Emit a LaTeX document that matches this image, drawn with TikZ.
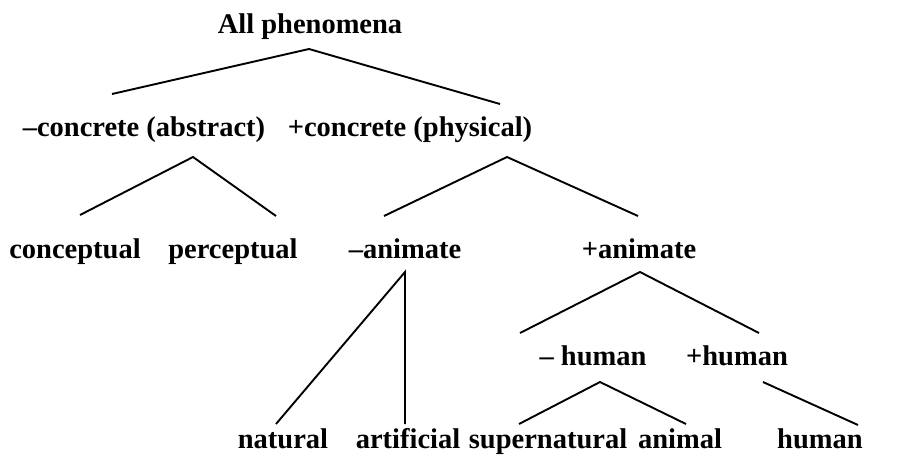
\documentclass[tikz,border=0pt]{standalone}
\usepackage{fontspec}
\setmainfont{Liberation Serif}
\begin{document}
\begin{tikzpicture}[x=1pt,y=-1pt,
  lbl/.style={anchor=base,inner sep=0pt,font=\fontsize{28.5}{32}\selectfont\bfseries},
  edge/.style={line width=1.9pt}]
\useasboundingbox (0,0) rectangle (909,456);
\node[lbl] (root) at (310,33) {All phenomena};
\node[lbl] (cabs) at (144,136) {–concrete (abstract)};
\node[lbl] (cphy) at (410,136) {+concrete (physical)};
\node[lbl] (conc) at (75,258) {conceptual};
\node[lbl] (perc) at (233,258) {perceptual};
\node[lbl] (nani) at (405,258) {–animate};
\node[lbl] (pani) at (639,258) {+animate};
\node[lbl] (nhum) at (593,365) {– human};
\node[lbl] (phum) at (737,365) {+human};
\node[lbl] (natu) at (283,448) {natural};
\node[lbl] (arti) at (408,448) {artificial};
\node[lbl] (supe) at (548,448) {supernatural};
\node[lbl] (anim) at (680,448) {animal};
\node[lbl] (huma) at (820,448) {human};
\draw[edge] ([shift={(-32,-42)}]cabs.base) -- ([shift={(-1,16)}]root.base) -- ([shift={(90,-32)}]cphy.base);
\draw[edge] ([shift={(5,-43)}]conc.base) -- ([shift={(49,21)}]cabs.base) -- ([shift={(43,-42)}]perc.base);
\draw[edge] ([shift={(-21,-42)}]nani.base) -- ([shift={(97,21)}]cphy.base) -- ([shift={(-1,-42)}]pani.base);
\draw[edge] ([shift={(-7,-24)}]natu.base) -- ([shift={(0,14)}]nani.base) -- ([shift={(-3,-24)}]arti.base);
\draw[edge] ([shift={(-73,-32)}]nhum.base) -- ([shift={(1,14)}]pani.base) -- ([shift={(22,-32)}]phum.base);
\draw[edge] ([shift={(-29,-24)}]supe.base) -- ([shift={(7,17)}]nhum.base) -- ([shift={(6,-24)}]anim.base);
\draw[edge] ([shift={(26,17)}]phum.base) -- ([shift={(38,-23)}]huma.base);
\end{tikzpicture}
\end{document}
